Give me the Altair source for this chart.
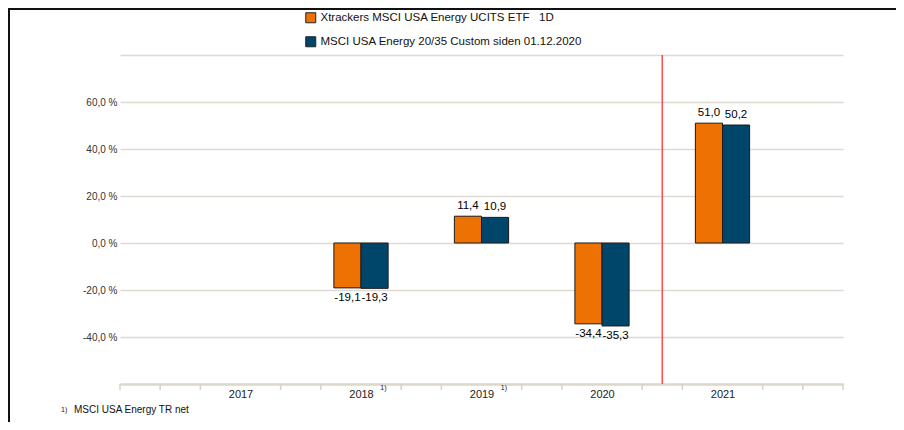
import altair as alt
import pandas as pd

# ---- data ----
years = [2018, 2019, 2020, 2021]
etf_values = [-19.1, 11.4, -34.4, 51.0]
index_values = [-19.3, 10.9, -35.3, 50.2]
series_names = [
    "Xtrackers MSCI USA Energy UCITS ETF\u00a0\u00a0\u00a01D",
    "MSCI USA Energy 20/35 Custom siden 01.12.2020",
]
series_colors = ["#EE7203", "#00466B"]
axis_years = [2017, 2018, 2019, 2020, 2021]
footnote_years = [2018, 2019]
y_grid = [-60, -40, -20, 0, 20, 40, 60, 80]
minor_ticks = [2016, 2016.3333, 2016.6667, 2017.3333, 2017.6667, 2018.3333, 2018.6667,
               2019.3333, 2019.6667, 2020.3333, 2020.6667, 2021.3333, 2021.6667, 2022]
marker_x = [2020.5]
footnote_text = ["MSCI USA Energy TR net"]

FONT = "Liberation Sans"
BW = 0.225

rows = []
for i, y in enumerate(years):
    rows.append({"year": y, "series": series_names[0], "s": 0, "value": etf_values[i]})
    rows.append({"year": y, "series": series_names[1], "s": 1, "value": index_values[i]})
df = pd.DataFrame(rows)

xscale = alt.Scale(domain=[2016, 2022], nice=False, zero=False)
yscale = alt.Scale(domain=[-60, 80], nice=False)

base = alt.Chart(df).transform_calculate(
    x0=f"datum.year + (datum.s == 0 ? -{BW} : 0)",
    x1=f"datum.year + (datum.s == 0 ? 0 : {BW})",
    xc=f"datum.year + (datum.s == 0 ? -{BW/2} : {BW/2})",
    ly="datum.value + (datum.value >= 0 ? 4.3 : -4.3)",
    lbl="(datum.value < 0 ? '-' : '') + replace(format(abs(datum.value), '.1f'), '.', ',')",
)

bars = base.mark_bar(stroke="#1a1a1a", strokeWidth=1).encode(
    x=alt.X("x0:Q", scale=xscale,
            axis=alt.Axis(values=axis_years, format="d", title=None, grid=False, ticks=False,
                          domainColor="#dcd8cc", domainWidth=2.5, labelFont=FONT,
                          labelFontSize=11, labelColor="#222", labelPadding=4)),
    x2="x1:Q",
    y=alt.Y("value:Q", scale=yscale,
            axis=alt.Axis(values=y_grid, title=None, domain=False, ticks=False,
                          gridColor="#dddad2", gridWidth=1.3,
                          labelExpr="(datum.value == 80 || datum.value == -60) ? '' : datum.value + ',0 %'",
                          labelFont=FONT, labelFontSize=10, labelColor="#333", labelPadding=3)),
    y2=alt.datum(0),
    color=alt.Color("series:N", scale=alt.Scale(domain=series_names, range=series_colors),
                    legend=alt.Legend(title=None, orient="none", legendX=185, legendY=-43,
                                      symbolType="square", symbolSize=100,
                                      symbolStrokeColor="#222", symbolStrokeWidth=1,
                                      labelFont=FONT, labelFontSize=11.5, labelColor="#111",
                                      labelLimit=0, labelOffset=4, rowPadding=9, padding=0)),
)

labels = base.mark_text(font=FONT, fontSize=11.5, color="#000",
                        baseline="middle", align="center").encode(
    x=alt.X("xc:Q", scale=xscale),
    y=alt.Y("ly:Q", scale=yscale),
    text="lbl:N",
)

tick_df = pd.DataFrame({"t": minor_ticks})
ticks = alt.Chart(tick_df).mark_rule(color="#d6d2c4", strokeWidth=1.5).encode(
    x=alt.X("t:Q", scale=xscale),
    y=alt.value(329),
    y2=alt.value(335),
)

marker = alt.Chart(pd.DataFrame({"m": marker_x})).mark_rule(color="#ff4d4d", strokeWidth=1.5).encode(
    x=alt.X("m:Q", scale=xscale),
    y=alt.value(0),
    y2=alt.value(329),
)

sup = alt.Chart(pd.DataFrame({"fy": footnote_years})).transform_calculate(
    sx="datum.fy + 0.16", st="'1)'"
).mark_text(font=FONT, fontSize=7, color="#111", align="left", baseline="middle").encode(
    x=alt.X("sx:Q", scale=xscale),
    y=alt.value(333),
    text="st:N",
)

foot_sup = alt.Chart(pd.DataFrame({"f": ["1)"]})).mark_text(
    font=FONT, fontSize=7, color="#111", align="left", baseline="middle").encode(
    x=alt.value(-59), y=alt.value(355), text="f:N")
foot = alt.Chart(pd.DataFrame({"f": footnote_text})).mark_text(
    font=FONT, fontSize=10, color="#111", align="left", baseline="middle").encode(
    x=alt.value(-46), y=alt.value(355), text="f:N")

frame_left = alt.Chart(pd.DataFrame({"a": [0]})).mark_rule(color="#111", strokeWidth=2).encode(
    x=alt.value(-111), y=alt.value(-47), y2=alt.value(376))
frame_top = alt.Chart(pd.DataFrame({"a": [0]})).mark_rule(color="#111", strokeWidth=2).encode(
    x=alt.value(-112), x2=alt.value(776), y=alt.value(-46))

chart = alt.layer(bars, labels, ticks, marker, sup, foot_sup, foot, frame_left, frame_top).properties(
    width=723, height=329,
    padding={"left": 112, "top": 47, "right": 53, "bottom": 38},
    autosize=alt.AutoSizeParams(type="none"),
    background="white",
).configure_view(stroke=None)

chart.save("out.html", embed_options={"renderer": "svg", "actions": False})
